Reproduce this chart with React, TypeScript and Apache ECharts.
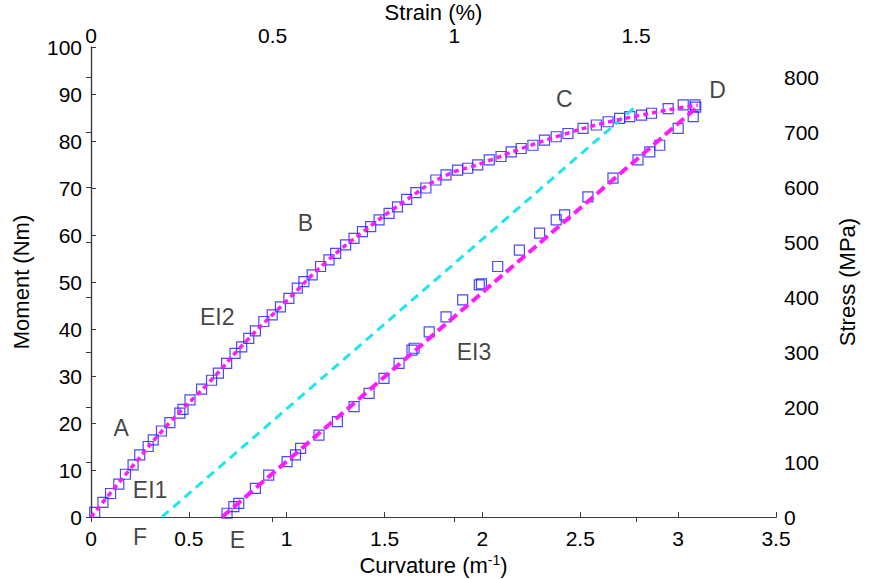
import React, { useEffect, useRef } from "react";
import * as echarts from "echarts";

// Loading branch (curvature m^-1, moment Nm)
const loadingPoints: [number, number][] = [
  [0.019, 1.0], [0.061, 3.1], [0.10, 5.0], [0.142, 7.0], [0.176, 9.1], [0.215, 11.1],
  [0.249, 13.2], [0.292, 15.0], [0.318, 16.4], [0.36, 18.3], [0.403, 20.1], [0.454, 22.1],
  [0.47, 22.9], [0.506, 24.9], [0.565, 27.2], [0.616, 29.1], [0.651, 30.6], [0.693, 32.7],
  [0.736, 34.8], [0.77, 36.2], [0.806, 38.0], [0.84, 39.6], [0.883, 41.6], [0.926, 43.0],
  [0.968, 44.7], [1.011, 46.5], [1.054, 48.7], [1.088, 50.1], [1.13, 51.5], [1.173, 53.3],
  [1.216, 54.7], [1.25, 56.1], [1.301, 57.9], [1.344, 59.3], [1.387, 60.7], [1.429, 61.8],
  [1.472, 63.2], [1.523, 64.6], [1.566, 66.0], [1.613, 67.6], [1.66, 69.0], [1.711, 70.0],
  [1.762, 71.7], [1.814, 72.8], [1.873, 73.8], [1.925, 74.2], [1.976, 74.9], [2.035, 76.0],
  [2.095, 76.7], [2.147, 77.7], [2.198, 78.4], [2.258, 79.1], [2.317, 80.2], [2.377, 80.9],
  [2.437, 81.6], [2.514, 82.7], [2.582, 83.4], [2.642, 84.1], [2.701, 84.8], [2.753, 85.2],
  [2.813, 85.5], [2.864, 85.9], [2.949, 86.9], [3.026, 87.7], [3.086, 87.7],
];

// Unloading branch
const unloadingPoints: [number, number][] = [
  [3.09, 87.2], [3.077, 85.2], [3.0, 82.7], [2.906, 79.1], [2.855, 77.7], [2.795, 76.0],
  [2.667, 72.1], [2.539, 68.1], [2.42, 64.3], [2.377, 63.2], [2.292, 60.4], [2.189, 56.8],
  [2.078, 53.3], [1.995, 49.6], [1.984, 49.4], [1.899, 46.2], [1.814, 42.6], [1.728, 39.4],
  [1.651, 35.9], [1.64, 35.5], [1.574, 32.7], [1.497, 29.5], [1.421, 26.3], [1.344, 23.5],
  [1.259, 20.3], [1.165, 17.4], [1.071, 14.6], [1.045, 13.2], [1.002, 11.8], [0.908, 8.9],
  [0.84, 6.1], [0.755, 2.9], [0.73, 2.2], [0.695, 0.8],
];

// Fitted loading curve (EI1 -> EI2 -> D)
const loadingFit: [number, number][] = [
  [0, 0], [0.2, 10.2], [0.4, 20.0], [0.6, 28.5], [0.8, 37.7], [1.0, 46.0], [1.2, 54.2],
  [1.4, 61.0], [1.6, 67.1], [1.8, 72.4], [2.0, 75.3], [2.2, 78.4], [2.4, 81.2],
  [2.6, 83.6], [2.8, 85.4], [3.0, 87.0], [3.1, 87.6],
];

// Fitted unloading line (EI3), E -> D
const unloadingFit: [number, number][] = [[0.67, 0], [3.1, 87.3]];

// Parallel reference line F -> C
const referenceLine: [number, number][] = [[0.362, 0], [2.787, 87.5]];

// Annotation labels
const annotations: { name: string; value: [number, number] }[] = [
  { name: "A", value: [0.154, 18.9] },
  { name: "B", value: [1.096, 62.6] },
  { name: "C", value: [2.418, 88.9] },
  { name: "D", value: [3.202, 90.9] },
  { name: "EI1", value: [0.302, 5.7] },
  { name: "EI2", value: [0.645, 42.6] },
  { name: "EI3", value: [1.957, 35.1] },
  { name: "F", value: [0.251, -4.3] },
  { name: "E", value: [0.748, -4.9] },
];

const curvatureTicks = { min: 0, max: 3.5, interval: 0.5 };
const momentTicks = { min: 0, max: 100, interval: 10 };
const strainTicks = { min: 0, max: 1.885, interval: 0.5 };
const stressTicks = { min: 0, max: 855, interval: 100 };

const FONT = "Liberation Sans, Arial, sans-serif";
const AXIS_COLOR = "#3a3a3a";
const TICK_FS = 21;
const NAME_FS = 22;

export default function App() {
  const ref = useRef<HTMLDivElement>(null);

  useEffect(() => {
    if (!ref.current) return;
    const chart = echarts.init(ref.current, undefined, { renderer: "svg" });

    const axisCommon = {
      type: "value" as const,
      splitLine: { show: false },
      axisLine: { show: true, lineStyle: { color: AXIS_COLOR, width: 1.2 } },
      axisTick: { show: true, inside: true, length: 5, lineStyle: { color: AXIS_COLOR } },
      axisLabel: { color: "#000", fontSize: TICK_FS, fontFamily: FONT, lineHeight: 16 },
      nameTextStyle: { color: "#000", fontSize: NAME_FS, fontFamily: FONT },
      nameLocation: "middle" as const,
      nameMoveOverlap: false,
    };

    const squareStyle = {
      color: "rgba(0,0,0,0)",
      borderColor: "#1a1aff",
      borderWidth: 1.2,
    };

    chart.setOption({
      animation: false,
      backgroundColor: "#fff",
      grid: {
        left: 91,
        right: 93,
        top: 47,
        bottom: 62,
        containLabel: false,
        outerBoundsMode: "none",
      },
      xAxis: [
        {
          ...axisCommon,
          position: "bottom",
          ...curvatureTicks,
          name: "{base|Curvature (m}{sup|-1}{base|)}",
          nameGap: 36,
          nameTextStyle: {
            color: "#000",
            fontSize: NAME_FS,
            fontFamily: FONT,
            rich: {
              base: { fontSize: NAME_FS, fontFamily: FONT, color: "#000" },
              sup: { fontSize: 14, verticalAlign: "top", padding: [0, 0, 11, 0], fontFamily: FONT, color: "#000" },
            },
          },
          axisLabel: { ...axisCommon.axisLabel, margin: 13 },
        },
        {
          ...axisCommon,
          position: "top",
          ...strainTicks,
          name: "Strain (%)",
          nameGap: 24,
          axisLabel: { ...axisCommon.axisLabel, margin: 4, showMaxLabel: false },
        },
      ],
      yAxis: [
        {
          ...axisCommon,
          position: "left",
          ...momentTicks,
          name: "Moment (Nm)",
          nameRotate: 90,
          nameGap: 59,
          axisLabel: { ...axisCommon.axisLabel, margin: 9 },
        },
        {
          ...axisCommon,
          position: "right",
          ...stressTicks,
          name: "Stress (MPa)",
          nameRotate: 90,
          nameGap: 60,
          axisLabel: { ...axisCommon.axisLabel, margin: 8, showMaxLabel: false },
        },
      ],
      series: [
        {
          type: "scatter",
          name: "loading",
          xAxisIndex: 0,
          yAxisIndex: 0,
          symbol: "rect",
          symbolSize: 10,
          itemStyle: squareStyle,
          data: loadingPoints,
          emphasis: { disabled: true },
          z: 2,
        },
        {
          type: "scatter",
          name: "unloading",
          xAxisIndex: 0,
          yAxisIndex: 0,
          symbol: "rect",
          symbolSize: 10,
          itemStyle: squareStyle,
          data: unloadingPoints,
          emphasis: { disabled: true },
          z: 2,
        },
        {
          type: "line",
          name: "reference",
          xAxisIndex: 0,
          yAxisIndex: 0,
          data: referenceLine,
          showSymbol: false,
          symbol: "none",
          lineStyle: { color: "#1ee6ee", width: 3, type: [9, 6] },
          z: 3,
        },
        {
          type: "line",
          name: "loadingFit",
          xAxisIndex: 0,
          yAxisIndex: 0,
          data: loadingFit,
          smooth: true,
          showSymbol: false,
          symbol: "none",
          lineStyle: { color: "#ff1aff", width: 3.5, type: [5, 4] },
          z: 4,
        },
        {
          type: "line",
          name: "unloadingFit",
          xAxisIndex: 0,
          yAxisIndex: 0,
          data: unloadingFit,
          showSymbol: false,
          symbol: "none",
          lineStyle: { color: "#ff1aff", width: 4, type: [10, 5] },
          z: 4,
        },
        {
          type: "scatter",
          name: "labels",
          xAxisIndex: 0,
          yAxisIndex: 0,
          symbolSize: 1,
          itemStyle: { color: "rgba(0,0,0,0)" },
          clip: false,
          silent: true,
          data: annotations,
          label: {
            show: true,
            position: "inside",
            formatter: "{b}",
            color: "#111",
            fontSize: 23,
            fontFamily: FONT,
          },
          z: 5,
        },
      ],
    });

    return () => chart.dispose();
  }, []);

  return (
    <div
      ref={ref}
      style={{ position: "absolute", left: 0, top: 0, width: 869, height: 579 }}
    />
  );
}
